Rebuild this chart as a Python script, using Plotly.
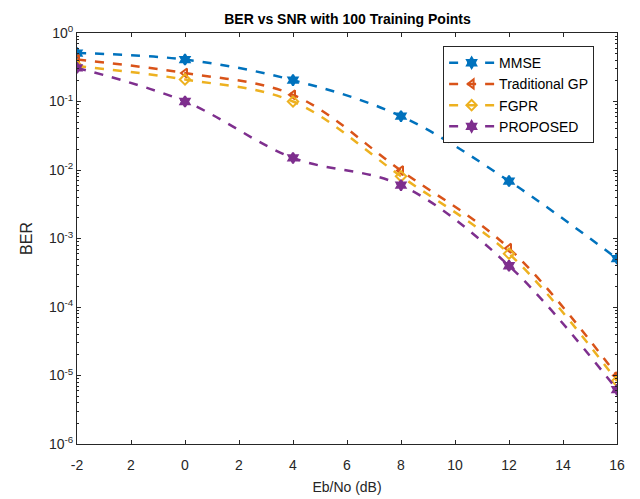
import plotly.graph_objects as go

snr = [-4, 0, 4, 8, 12, 16]
mmse = [0.51, 0.41, 0.205, 0.061, 0.0069, 5.1e-4]
trad_gp = [0.41, 0.26, 0.125, 0.0098, 7.2e-4, 1.0e-5]
fgpr = [0.33, 0.21, 0.10, 0.0081, 6.0e-4, 8.3e-6]
proposed = [0.31, 0.10, 0.015, 0.006, 4.0e-4, 6.2e-6]

x_tickvals = [-4, -2, 0, 2, 4, 6, 8, 10, 12, 14, 16]
x_ticktext = ["-2", "2", "0", "2", "4", "6", "8", "10", "12", "14", "16"]
y_tickvals = [1e-6, 1e-5, 1e-4, 1e-3, 1e-2, 1e-1, 1]
y_ticktext = ["10<sup>-6</sup>", "10<sup>-5</sup>", "10<sup>-4</sup>", "10<sup>-3</sup>",
              "10<sup>-2</sup>", "10<sup>-1</sup>", "10<sup>0</sup>"]
y_minor = [m * 10.0 ** e for e in range(-6, 0) for m in range(2, 10)]

series = [
    ("MMSE", mmse, "#0072BD", "hexagram"),
    ("Traditional GP", trad_gp, "#D95319", "triangle-left-open"),
    ("FGPR", fgpr, "#EDB120", "diamond-open"),
    ("PROPOSED", proposed, "#7E2F8E", "hexagram"),
]

fig = go.Figure()
for name, vals, color, sym in series:
    fig.add_trace(go.Scatter(
        x=snr, y=vals, name=name, mode="lines+markers",
        line=dict(color=color, width=2.5, dash="dash", shape="spline"),
        marker=dict(symbol=sym, size=8, color=color, line=dict(color=color, width=2)),
    ))
# invisible helper trace so the overlay tick axes are drawn
fig.add_trace(go.Scatter(x=snr, y=mmse, xaxis="x2", yaxis="y2", mode="markers",
                         marker=dict(opacity=0), showlegend=False, hoverinfo="skip"))

axis_col = "#262626"
fig.update_layout(
    width=640, height=499,
    margin=dict(l=77, r=23, t=33, b=55),
    paper_bgcolor="white", plot_bgcolor="white",
    font=dict(family="Liberation Sans, Arial, sans-serif", color=axis_col, size=13),
    title=dict(text="<b>BER vs SNR with 100 Training Points</b>", x=0.543, xanchor="center",
               y=0.962, yanchor="middle", font=dict(size=14, color="black")),
    showlegend=True,
    legend=dict(x=0.678, y=0.968, xanchor="left", yanchor="top",
                bgcolor="white", bordercolor=axis_col, borderwidth=1,
                font=dict(size=14, color="black"), tracegroupgap=0, itemwidth=45),
    xaxis=dict(
        range=[-4, 16], tickvals=x_tickvals, ticktext=x_ticktext,
        ticks="outside", ticklen=8, tickcolor="rgba(0,0,0,0)",
        showline=True, linecolor=axis_col, linewidth=1, mirror=True,
        showgrid=False, zeroline=False, automargin=False,
        title=dict(text="Eb/No (dB)", font=dict(size=14), standoff=10),
        tickfont=dict(size=14, color=axis_col),
    ),
    xaxis2=dict(
        overlaying="x", anchor="y", range=[-4, 16], tickvals=x_tickvals,
        ticks="inside", ticklen=4, tickcolor=axis_col, showticklabels=False,
        showline=False, mirror="ticks", showgrid=False, zeroline=False, automargin=False,
    ),
    yaxis=dict(
        type="log", range=[-6, 0], tickvals=y_tickvals, ticktext=y_ticktext,
        ticks="inside", ticklen=4, tickcolor=axis_col,
        showline=True, linecolor=axis_col, linewidth=1, mirror="ticks",
        showgrid=False, zeroline=False, automargin=False,
        title=dict(text="BER", font=dict(size=16), standoff=12),
        tickfont=dict(size=14, color=axis_col),
    ),
    yaxis2=dict(
        overlaying="y", anchor="x", type="log", range=[-6, 0], tickvals=y_minor,
        ticks="inside", ticklen=2, tickcolor=axis_col, showticklabels=False,
        showline=False, mirror="ticks", showgrid=False, zeroline=False, automargin=False,
    ),
)
fig.write_html("out.html")
